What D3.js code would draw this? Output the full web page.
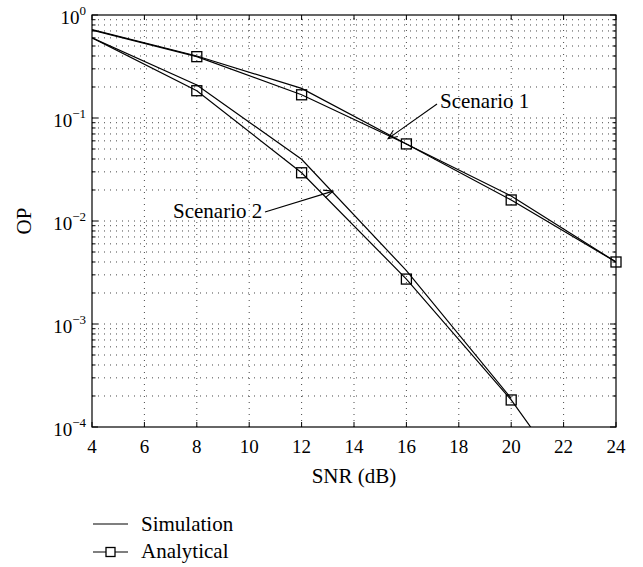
<!DOCTYPE html>
<html>
<head>
<meta charset="utf-8">
<script src="https://cdn.jsdelivr.net/npm/d3@7"></script>
<style>
  body { margin: 0; background: #fff; }
  text { font-family: "Liberation Serif", "DejaVu Serif", serif; }
</style>
</head>
<body>
<div id="chart"></div>
<script>
// SNR points (dB)
var snr = [4, 8, 12, 16, 20, 24];

// outage probability
var sim1 = [0.72, 0.40, 0.194, 0.056, 0.0175, 0.0040];
var ana1 = [0.715, 0.394, 0.168, 0.056, 0.016, 0.0040];
var sim2 = [0.60, 0.209, 0.0397, 0.0033, 0.00019];
var ana2 = [0.60, 0.184, 0.0294, 0.00273, 0.000183, 0.000007];

var xTicks = [4, 6, 8, 10, 12, 14, 16, 18, 20, 22, 24];
var yDecades = [0, -1, -2, -3, -4];

var W = 643, H = 567;
var m = { left: 92, right: 27, top: 15, bottom: 140 };
var serif = '"Liberation Serif", "DejaVu Serif", serif';

var svg = d3.select('#chart').append('svg')
    .attr('width', W)
    .attr('height', H)
    .attr('font-family', serif);

var x = d3.scaleLinear().domain([4, 24]).range([m.left, W - m.right]);
var y = d3.scaleLog().domain([1e-4, 1]).range([H - m.bottom, m.top]);

var x0 = x.range()[0], x1 = x.range()[1];
var y0 = y.range()[0], y1 = y.range()[1];

// minor log values 1..9 x 10^k
var logVals = [];
for (var k = -4; k < 0; k++) {
    for (var j = 1; j <= 9; j++) logVals.push(j * Math.pow(10, k));
}
logVals.push(1);

// dotted grid
var grid = svg.append('g')
    .attr('stroke', '#333')
    .attr('stroke-width', 0.9)
    .attr('stroke-dasharray', '1,5');
grid.selectAll('.hg').data(logVals.filter(function(v){ return v > 1e-4 && v < 1; }))
    .enter().append('line')
    .attr('x1', x0).attr('x2', x1)
    .attr('y1', function(d){ return y(d); })
    .attr('y2', function(d){ return y(d); });
grid.selectAll('.vg').data(xTicks.slice(1, -1))
    .enter().append('line')
    .attr('y1', y0).attr('y2', y1)
    .attr('x1', function(d){ return x(d); })
    .attr('x2', function(d){ return x(d); });

// ticks inside on all four sides
var ticks = svg.append('g').attr('stroke', '#000').attr('stroke-width', 1);
logVals.forEach(function(v) {
    var major = Math.abs(Math.log10(v) - Math.round(Math.log10(v))) < 1e-9;
    var len = major ? 6 : 3.5;
    ticks.append('line').attr('x1', x0).attr('x2', x0 + len)
        .attr('y1', y(v)).attr('y2', y(v));
    ticks.append('line').attr('x1', x1).attr('x2', x1 - len)
        .attr('y1', y(v)).attr('y2', y(v));
});
xTicks.forEach(function(t) {
    ticks.append('line').attr('x1', x(t)).attr('x2', x(t))
        .attr('y1', y0).attr('y2', y0 - 5);
    ticks.append('line').attr('x1', x(t)).attr('x2', x(t))
        .attr('y1', y1).attr('y2', y1 + 5);
});

// frame
svg.append('rect')
    .attr('x', x0).attr('y', y1)
    .attr('width', x1 - x0).attr('height', y0 - y1)
    .attr('fill', 'none').attr('stroke', '#000').attr('stroke-width', 1.2);

// tick labels
svg.append('g').selectAll('text').data(xTicks).enter().append('text')
    .attr('x', function(d){ return x(d); })
    .attr('y', y0 + 26)
    .attr('text-anchor', 'middle')
    .attr('font-size', 19)
    .text(function(d){ return d; });

var yl = svg.append('g').selectAll('text').data(yDecades).enter().append('text')
    .attr('x', x0 - 6)
    .attr('y', function(d){ return y(Math.pow(10, d)) + 9; })
    .attr('text-anchor', 'end')
    .attr('font-size', 19);
yl.append('tspan').text('10');
yl.append('tspan')
    .attr('dy', -9)
    .attr('font-size', 13)
    .text(function(d){ return d === 0 ? '0' : '\u2212' + (-d); });

// axis titles
svg.append('text')
    .attr('x', (x0 + x1) / 2).attr('y', y0 + 56)
    .attr('text-anchor', 'middle').attr('font-size', 21)
    .text('SNR (dB)');
svg.append('text')
    .attr('transform', 'translate(31,' + ((y0 + y1) / 2) + ') rotate(-90)')
    .attr('text-anchor', 'middle').attr('font-size', 21)
    .text('OP');

// clip for curves
svg.append('clipPath').attr('id', 'clip')
    .append('rect').attr('x', x0).attr('y', y1)
    .attr('width', x1 - x0).attr('height', y0 - y1);

var line = d3.line()
    .x(function(d){ return x(d[0]); })
    .y(function(d){ return y(d[1]); });

function pairs(vals) {
    return vals.map(function(v, i){ return [snr[i], v]; });
}

var curves = svg.append('g').attr('clip-path', 'url(#clip)');
[sim1, ana1, sim2, ana2].forEach(function(s) {
    curves.append('path')
        .attr('d', line(pairs(s)))
        .attr('fill', 'none')
        .attr('stroke', '#000')
        .attr('stroke-width', 1.2);
});

// square markers on analytical curves (none at the first point)
var ms = 10;
[ana1, ana2].forEach(function(s) {
    svg.selectAll(null)
        .data(pairs(s).filter(function(d){ return d[0] > 4 && d[1] >= 1e-4; }))
        .enter().append('rect')
        .attr('x', function(d){ return x(d[0]) - ms / 2; })
        .attr('y', function(d){ return y(d[1]) - ms / 2; })
        .attr('width', ms).attr('height', ms)
        .attr('fill', 'none')
        .attr('stroke', '#000')
        .attr('stroke-width', 1.3);
});

// annotations with open arrowheads
function arrow(xa, ya, xb, yb) {
    var g = svg.append('g').attr('stroke', '#000').attr('stroke-width', 1.1).attr('fill', 'none');
    g.append('line').attr('x1', xa).attr('y1', ya).attr('x2', xb).attr('y2', yb);
    var ang = Math.atan2(yb - ya, xb - xa), L = 10, a = 0.4;
    g.append('path').attr('d',
        'M' + (xb - L * Math.cos(ang - a)) + ',' + (yb - L * Math.sin(ang - a)) +
        'L' + xb + ',' + yb +
        'L' + (xb - L * Math.cos(ang + a)) + ',' + (yb - L * Math.sin(ang + a)));
}
svg.append('text').attr('x', 440).attr('y', 108).attr('font-size', 21).text('Scenario 1');
arrow(437, 104, x(15.3), y(0.063));
svg.append('text').attr('x', 173).attr('y', 218).attr('font-size', 21).text('Scenario 2');
arrow(265, 212, x(13.2), y(0.0195));

// legend
var lg = svg.append('g').attr('font-size', 21);
lg.append('line').attr('x1', 93).attr('x2', 128).attr('y1', 524).attr('y2', 524)
    .attr('stroke', '#000').attr('stroke-width', 1.2);
lg.append('text').attr('x', 141).attr('y', 531).text('Simulation');
lg.append('line').attr('x1', 93).attr('x2', 128).attr('y1', 552).attr('y2', 552)
    .attr('stroke', '#000').attr('stroke-width', 1.2);
lg.append('rect').attr('x', 110.5 - 4.5).attr('y', 552 - 4.5).attr('width', 9).attr('height', 9)
    .attr('fill', '#fff').attr('stroke', '#000').attr('stroke-width', 1.3);
lg.append('text').attr('x', 141).attr('y', 558).text('Analytical');
</script>
</body>
</html>
